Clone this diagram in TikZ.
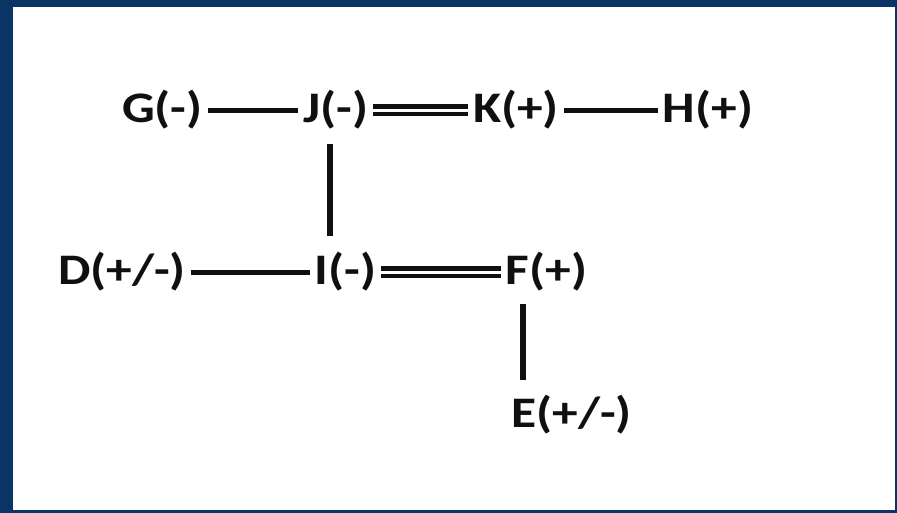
\documentclass[tikz,border=0pt]{standalone}
\usepackage{fontspec}
\setmainfont{Carlito}
\usepackage{xcolor}
\usetikzlibrary{calc}
\definecolor{FrameBlue}{HTML}{0A3465}
\definecolor{Ink}{HTML}{101010}

\begin{document}
\begin{tikzpicture}[
  group/.style={font=\fontsize{31}{36}\selectfont\bfseries,text=Ink,anchor=base,inner xsep=0.1cm,inner ysep=0.05cm,xscale=1.18},
  bond/.style={draw=Ink,line width=3.6pt},
  dbond/.style={draw=Ink,line width=3.2pt,double=white,double distance=0.08cm}
]
% frame
\fill[FrameBlue] (0,0) rectangle (22.425,-12.825);
\fill[white] (0.325,-0.175) rectangle (22.375,-12.75);

\node[group] (G) at (4.06,-3.075) {G(-)};
\node[group] (J) at (8.39,-3.075) {J(-)};
\node[group] (K) at (12.9,-3.075) {K(+)};
\node[group] (H) at (17.7,-3.075) {H(+)};
\node[group] (D) at (3.05,-7.125) {D(+/-)};
\node[group] (I) at (8.64,-7.125) {I(-)};
\node[group] (F) at (13.66,-7.125) {F(+)};
\node[group] (E) at (14.29,-10.675) {E(+/-)};
\coordinate (jx) at (8.25,0);
\coordinate (fx) at (13.075,0);

\draw[bond] (G.east) -- (J.west);
\draw[dbond] (J.east) -- (K.west);
\draw[bond] (K.east) -- (H.west);
\draw[bond] (D.east) -- (I.west);
\draw[dbond] (I.east) -- (F.west);
\draw[bond,line width=4.2pt] (J.south -| jx) ++(0,-0.3) -- ($(I.north -| jx)+(0,0.35)$);
\draw[bond,line width=4.2pt] (F.south -| fx) ++(0,-0.25) -- ($(E.north -| fx)+(0,0.3)$);
\end{tikzpicture}
\end{document}
